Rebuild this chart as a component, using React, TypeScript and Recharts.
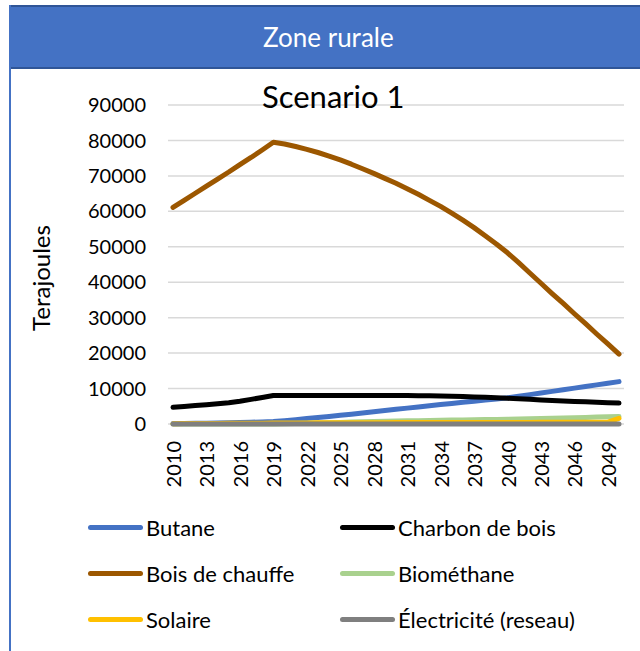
import { CartesianGrid, Legend, Line, LineChart, XAxis, YAxis } from "recharts";

const years = [
  "2010", "2011", "2012", "2013", "2014", "2015", "2016", "2017", "2018", "2019",
  "2020", "2021", "2022", "2023", "2024", "2025", "2026", "2027", "2028", "2029",
  "2030", "2031", "2032", "2033", "2034", "2035", "2036", "2037", "2038", "2039",
  "2040", "2041", "2042", "2043", "2044", "2045", "2046", "2047", "2048", "2049",
  "2050",
];

const butane = [
  150, 170, 200, 240, 290, 350, 420, 500, 590, 700,
  950, 1230, 1520, 1820, 2130, 2450, 2780, 3120, 3460, 3800,
  4140, 4480, 4820, 5150, 5480, 5800, 6120, 6440, 6760, 7080,
  7400, 7840, 8290, 8740, 9200, 9660, 10120, 10580, 11040, 11500,
  11950,
];

const charbon = [
  4700, 4950, 5200, 5450, 5720, 6000, 6400, 6950, 7500, 8050,
  8050, 8050, 8050, 8050, 8050, 8050, 8050, 8050, 8050, 8050,
  8050, 8050, 8000, 7950, 7900, 7850, 7750, 7650, 7550, 7400,
  7250, 7100, 6950, 6800, 6650, 6500, 6380, 6250, 6130, 6000,
  5900,
];

const boisChauffe = [
  61100, 63100, 65100, 67100, 69100, 71100, 73200, 75200, 77300, 79500,
  79000, 78300, 77500, 76600, 75600, 74500, 73300, 72000, 70700, 69300,
  67900, 66400, 64800, 63100, 61400, 59500, 57500, 55400, 53100, 50800,
  48300, 45500, 42600, 39700, 36800, 34000, 31100, 28300, 25400, 22600,
  19700,
];

const biomethane = [
  0, 0, 0, 0, 0, 0, 0, 0, 0, 0,
  100, 170, 240, 310, 380, 450, 530, 610, 690, 770,
  850, 900, 950, 1000, 1050, 1100, 1150, 1200, 1250, 1300,
  1350, 1420, 1490, 1560, 1630, 1700, 1780, 1860, 1940, 2020,
  2100,
];

const solaire = [
  100, 110, 120, 140, 160, 180, 200, 220, 240, 260,
  280, 300, 310, 320, 330, 340, 350, 360, 370, 380,
  390, 400, 405, 410, 415, 420, 425, 430, 435, 440,
  445, 450, 455, 460, 465, 470, 475, 480, 485, 500,
  1600,
];

const electricite = [
  0, 0, 0, 0, 0, 0, 0, 0, 0, 0,
  0, 0, 0, 0, 0, 0, 0, 0, 0, 0,
  0, 0, 0, 0, 0, 0, 0, 0, 0, 0,
  0, 0, 0, 0, 0, 0, 0, 0, 0, 0,
  0,
];

const yTicks = [0, 10000, 20000, 30000, 40000, 50000, 60000, 70000, 80000, 90000];

const series = [
  { key: "butane", name: "Butane", color: "#4472C4" },
  { key: "charbon", name: "Charbon de bois", color: "#000000" },
  { key: "bois", name: "Bois de chauffe", color: "#9C5700" },
  { key: "biomethane", name: "Biométhane", color: "#A9D18E" },
  { key: "solaire", name: "Solaire", color: "#FFC000" },
  { key: "electricite", name: "Électricité (reseau)", color: "#7F7F7F" },
];

const data = years.map((year, i) => ({
  year,
  butane: butane[i],
  charbon: charbon[i],
  bois: boisChauffe[i],
  biomethane: biomethane[i],
  solaire: solaire[i],
  electricite: electricite[i],
}));

const FONT = "Lato, 'Noto Sans', sans-serif";

function YearTick({ x, y, payload }: any) {
  return (
    <text
      x={x - 9}
      y={y}
      transform={`rotate(-90, ${x}, ${y})`}
      textAnchor="end"
      dominantBaseline="central"
      fontSize={20}
      fontFamily={FONT}
      fill="#000"
    >
      {payload.value}
    </text>
  );
}

// keep the legend in series order (recharts sorts it by name otherwise)
function LegendContent({ payload }: any) {
  const order = series.map((s) => s.name);
  const items = [...(payload || [])].sort(
    (a: any, b: any) => order.indexOf(a.value) - order.indexOf(b.value)
  );
  return (
    <div
      style={{
        display: "grid",
        gridTemplateColumns: "252px 240px",
        paddingLeft: 88,
        fontFamily: FONT,
      }}
    >
      {items.map((p: any) => (
        <div key={p.value} style={{ display: "flex", alignItems: "center", height: 46 }}>
          <span
            style={{
              display: "inline-block",
              width: 55,
              height: 5,
              borderRadius: 3,
              background: p.color,
              marginRight: 3,
            }}
          />
          <span style={{ fontSize: 22, color: "#000", whiteSpace: "nowrap" }}>{p.value}</span>
        </div>
      ))}
    </div>
  );
}

export default function App() {
  return (
    <div
      style={{
        position: "absolute",
        left: 0,
        top: 0,
        width: 640,
        height: 651,
        background: "#fff",
        overflow: "hidden",
        fontFamily: FONT,
      }}
    >
      <style>{"html, body { margin: 0; overflow: hidden; }"}</style>
      <LineChart
        width={632}
        height={651}
        data={data}
        margin={{ top: 105, right: 8, bottom: 147, left: 10 }}
      >
        <CartesianGrid vertical={false} stroke="#d9d9d9" strokeWidth={1.5} />
        <XAxis
          dataKey="year"
          interval={2}
          axisLine={false}
          tickLine={false}
          height={80}
          padding={{ left: 5, right: 5 }}
          tick={<YearTick />}
        />
        <YAxis
          domain={[0, 90000]}
          ticks={yTicks}
          width={158}
          axisLine={false}
          tickLine={false}
          tickSize={6}
          tickMargin={16}
          tick={{ fontSize: 20, fill: "#000", fontFamily: FONT }}
        />
        <Legend
          layout="horizontal"
          verticalAlign="middle"
          align="center"
          content={<LegendContent />}
          wrapperStyle={{ top: 504, left: 0, width: 600, height: 138 }}
        />
        {series.map((s) => (
          <Line
            key={s.key}
            type="linear"
            dataKey={s.key}
            name={s.name}
            stroke={s.color}
            strokeWidth={5}
            strokeLinecap="round"
            strokeLinejoin="round"
            dot={false}
            activeDot={false}
            isAnimationActive={false}
          />
        ))}
      </LineChart>

      <div
        style={{
          position: "absolute",
          left: 9,
          top: 5,
          width: 631,
          height: 64,
          background: "#4472C4",
          borderTop: "2px solid #2F5597",
          borderBottom: "2px solid #2F5597",
          boxSizing: "border-box",
          color: "#fff",
          fontSize: 26,
          lineHeight: "60px",
          paddingLeft: 254,
          whiteSpace: "nowrap",
        }}
      >
        Zone rurale
      </div>
      <div
        style={{
          position: "absolute",
          left: 9,
          top: 5,
          width: 2,
          height: 646,
          background: "#4472C4",
        }}
      />
      <div
        style={{
          position: "absolute",
          left: 262,
          top: 77,
          fontSize: 31,
          color: "#000",
          lineHeight: "38px",
          whiteSpace: "nowrap",
        }}
      >
        Scenario 1
      </div>
      <div
        style={{
          position: "absolute",
          left: 40,
          top: 278,
          transform: "translate(-50%, -50%) rotate(-90deg)",
          fontSize: 24,
          color: "#000",
          whiteSpace: "nowrap",
        }}
      >
        Terajoules
      </div>
    </div>
  );
}
